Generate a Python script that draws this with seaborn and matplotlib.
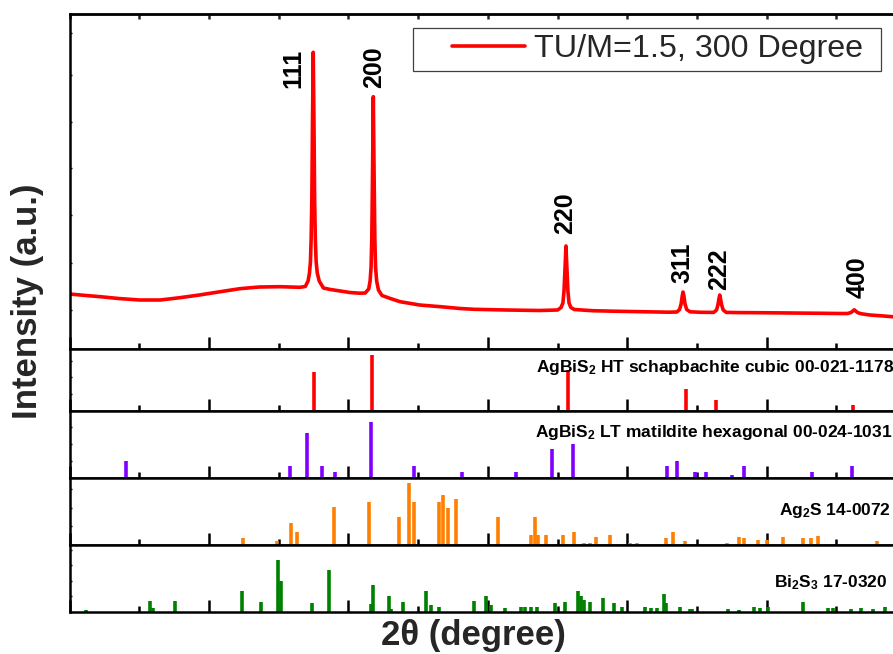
import matplotlib
matplotlib.use("Agg")
import matplotlib.pyplot as plt
from matplotlib.lines import Line2D
from matplotlib.legend_handler import HandlerLine2D
from matplotlib.ticker import MultipleLocator, FixedLocator
import seaborn as sns

# ---------------- measured XRD pattern ----------------
sample_label = "TU/M=1.5, 300 Degree"

two_theta = [
    10.0, 11.0, 12.2, 13.5, 15.0, 16.5, 17.9, 19.3, 20.8, 22.2, 23.6, 25.1, 26.5, 26.9,
    27.10, 27.20, 27.27, 27.32, 27.37, 27.42, 27.47, 27.52, 27.57, 27.62, 27.68, 27.76, 27.90, 28.20,
    28.7, 29.5, 30.1, 30.8,
    31.20, 31.45, 31.55, 31.62, 31.67, 31.72, 31.78, 31.84, 31.89, 31.94, 32.02, 32.15, 32.40,
    33.0, 33.7, 35.1, 36.6, 38.0, 39.0, 41.3, 43.7,
    45.00, 45.25, 45.38, 45.46, 45.53, 45.60, 45.67, 45.74, 45.82, 45.95, 46.20,
    47.5, 49.0, 51.0, 53.0,
    53.55, 53.75, 53.86, 53.94, 54.00, 54.06, 54.14, 54.26, 54.50, 55.3,
    56.20, 56.40, 56.50, 56.57, 56.63, 56.69, 56.77, 56.88, 57.10,
    58.0, 59.3, 61.0, 62.5, 64.0, 65.2,
    65.80, 66.05, 66.18, 66.28, 66.40, 66.55, 66.80,
    67.4, 68.2, 69.0, 70.0,
]
intensity = [
    550, 537, 523, 505, 490, 490, 513, 540, 573, 603, 620, 623, 617, 625,
    680, 760, 870, 1100, 1500, 2300, 2967, 2300, 1500, 1100, 870, 760, 680, 610,
    595, 578, 565, 558,
    560, 600, 680, 820, 1100, 1700, 2523, 1700, 1100, 820, 680, 590, 535,
    505, 473, 440, 423, 405, 397, 390, 385,
    390, 415, 460, 580, 800, 1030, 800, 580, 460, 415, 395,
    383, 378, 373, 368,
    370, 395, 450, 530, 570, 530, 450, 395, 372, 367,
    366, 390, 440, 500, 540, 500, 440, 390, 366,
    364, 363, 361, 359, 357, 355,
    355, 365, 380, 392, 378, 362, 352,
    340, 332, 323, 318,
]

# Miller indices of the indexed reflections and where their labels sit
peak_hkl = ["111", "200", "220", "311", "222", "400"]
hkl_label_x = [26.05, 31.83, 45.57, 53.96, 56.58, 66.55]
hkl_label_y = [2610, 2610, 1147, 663, 590, 513]

# ---------------- reference cards (relative intensity) ----------------
ht_name = r"AgBiS$_\mathbf{2}$ HT schapbachite cubic 00-021-1178"
ht_pos = [27.50, 31.69, 45.77, 54.19, 56.36, 66.17]
ht_int = [70, 100, 74, 40, 20, 10]

lt_name = r"AgBiS$_\mathbf{2}$ LT matildite hexagonal 00-024-1031"
lt_pos = [14.04, 25.78, 27.00, 28.12, 29.05, 31.61, 34.70, 38.14, 42.00, 44.60,
          46.10, 52.87, 53.54, 54.86, 55.62, 57.51, 58.35, 63.25, 66.10]
lt_int = [31, 21, 80, 21, 11, 100, 21, 11, 11, 51,
          61, 21, 31, 11, 11, 6, 21, 11, 21]

ag2s_name = r"Ag$_\mathbf{2}$S 14-0072"
ag2s_pos = [22.41, 24.85, 25.88, 26.33, 28.96, 31.49, 33.60, 34.36, 34.70, 36.51,
            36.80, 37.12, 37.71, 40.72, 43.10, 43.38, 43.60, 44.17, 45.41, 46.18,
            46.87, 47.32, 47.73, 48.74, 50.17, 50.72, 52.76, 53.26, 54.16, 57.17,
            58.03, 58.35, 59.38, 60.04, 61.19, 62.58, 63.18, 63.70, 67.89]
ag2s_int = [10, 6, 35, 20, 61, 70, 45, 100, 70, 70,
            80, 60, 75, 45, 15, 45, 15, 16, 16, 20,
            3, 3, 13, 16, 3, 3, 11, 20, 6, 3,
            13, 10, 8, 8, 12, 11, 11, 14, 6]

bi2s3_name = r"Bi$_\mathbf{2}$S$_\mathbf{3}$ 17-0320"
bi2s3_pos = [11.15, 15.78, 16.00, 17.58, 22.38, 23.70, 24.92, 25.18, 27.40, 28.60,
             31.61, 31.78, 32.93, 33.07, 33.89, 35.56, 35.90, 36.51, 39.00, 39.86,
             40.20, 41.20, 42.38, 42.66, 43.10, 43.55, 44.82, 45.53, 46.44, 46.68,
             46.90, 47.32, 48.24, 49.02, 49.64, 51.29, 51.68, 52.15, 52.61, 52.78,
             53.76, 54.50, 54.66, 57.25, 58.03, 59.07, 59.54, 60.11, 62.63, 64.42,
             64.78, 66.05, 66.80, 67.60, 68.49]
bi2s3_int = [3, 21, 7, 21, 40, 19, 100, 60, 17, 80,
             14, 51, 30, 5, 19, 40, 13, 10, 21, 30,
             13, 7, 10, 10, 10, 10, 17, 18, 40, 31,
             23, 18, 26, 17, 10, 10, 7, 7, 35, 16,
             10, 5, 5, 5, 3, 10, 8, 9, 19, 7,
             8, 5, 7, 5, 9]

# ---------------- styling ----------------
sns.set_theme(style="ticks")
plt.rcParams["font.family"] = ["Liberation Sans", "DejaVu Sans"]
plt.rcParams["mathtext.fontset"] = "custom"
plt.rcParams["mathtext.rm"] = "Liberation Sans"
plt.rcParams["mathtext.bf"] = "Liberation Sans:bold"
plt.rcParams["mathtext.it"] = "Liberation Sans:italic"

W, H = 893, 654
fig = plt.figure(figsize=(W / 100, H / 100), dpi=100)

x_left_px = 69.7
x_right_px = 906.1           # 70 degrees, just past the right edge of the canvas
xlim = (10, 70)


def add_panel(top_px, bottom_px):
    return fig.add_axes([x_left_px / W, 1 - bottom_px / H,
                         (x_right_px - x_left_px) / W, (bottom_px - top_px) / H])


ax0 = add_panel(14, 349)
stick_axes = [add_panel(349, 411), add_panel(411, 478.3),
              add_panel(478.3, 544.5), add_panel(544.5, 611.7)]

spine_lw = 1.8
for ax in [ax0] + stick_axes:
    ax.set_xlim(*xlim)
    ax.set_facecolor("white")
    ax.spines["right"].set_visible(False)
    for s in ("top", "bottom", "left"):
        ax.spines[s].set_linewidth(spine_lw)
        ax.spines[s].set_color("black")
    ax.xaxis.set_major_locator(MultipleLocator(10))
    ax.xaxis.set_minor_locator(MultipleLocator(5))
    ax.tick_params(axis="x", which="major", direction="in", length=8.8, width=1.8,
                   bottom=True, top=False, labelbottom=False, color="black")
    ax.tick_params(axis="x", which="minor", direction="in", length=4.4, width=1.8,
                   bottom=True, top=False, labelbottom=False, color="black")
    ax.tick_params(axis="y", which="both", direction="in", length=1.6, width=1.0,
                   left=True, right=False, labelleft=False, color="black")
    ax.set_xlabel("")
    ax.set_ylabel("")

# ---------------- main pattern ----------------
sns.lineplot(x=two_theta, y=intensity, ax=ax0, color="#ff0000", linewidth=2.6,
             label=sample_label)
ax0.set_ylim(0, 3350)
ax0.yaxis.set_major_locator(FixedLocator([390, 860, 1340, 1810, 2270, 2740, 3160]))
ax0.set_xlabel("")
ax0.set_ylabel("")

top_ticks = ax0.secondary_xaxis("top")
top_ticks.xaxis.set_major_locator(MultipleLocator(5))
top_ticks.tick_params(direction="in", length=3.5, width=1.8, labeltop=False)
top_ticks.spines["top"].set_linewidth(spine_lw)

for hkl, lx, ly in zip(peak_hkl, hkl_label_x, hkl_label_y):
    ax0.text(lx, ly, hkl, rotation=90, ha="center", va="bottom",
             fontsize=18, fontweight="bold", color="black")

handles, labels = ax0.get_legend_handles_labels()
leg = ax0.legend(handles, labels, loc="upper left",
                 bbox_to_anchor=(413 / W, 1 - 28 / H, 467.7 / W, 0),
                 bbox_transform=fig.transFigure, mode="expand",
                 borderaxespad=0, borderpad=0.2, handlelength=3.28,
                 handletextpad=0.28, fontsize=23.2, fancybox=False,
                 framealpha=1, edgecolor="#404040",
                 handler_map={Line2D: HandlerLine2D(xpad=1.0)})
leg.get_frame().set_linewidth(0.9)

# ---------------- reference stick patterns ----------------
cards = [
    (ht_pos, ht_int, "#ff0000", ht_name, 111, 43.45, 70.4, "left"),
    (lt_pos, lt_int, "#8000ff", lt_name, 119, 43.38, 73.6, "left"),
    (ag2s_pos, ag2s_int, "#ff8000", ag2s_name, 108, 68.86, 48.1, "right"),
    (bi2s3_pos, bi2s3_int, "#008000", bi2s3_name, 130, 68.70, 46.4, "right"),
]
for ax, (pos, inten, color, name, ytop, tx, ty, ha) in zip(stick_axes, cards):
    ax.vlines(pos, 0, inten, colors=color, linewidth=2.6)
    ax.set_ylim(0, ytop)
    ax.yaxis.set_major_locator(MultipleLocator(30))
    ax.text(tx, ty, name, ha=ha, va="baseline", fontsize=12.5,
            fontweight="bold", color="black", zorder=5)

# ---------------- axis titles ----------------
fig.text(27.5 / W, 1 - 301 / H, "Intensity (a.u.)", rotation=90, ha="center",
         va="center", fontsize=25, fontweight="bold")
fig.text(473 / W, 1 - 645 / H, "2θ (degree)", ha="center", va="baseline",
         fontsize=25, fontweight="bold")

fig.savefig("out.png", dpi=100, facecolor="white")
